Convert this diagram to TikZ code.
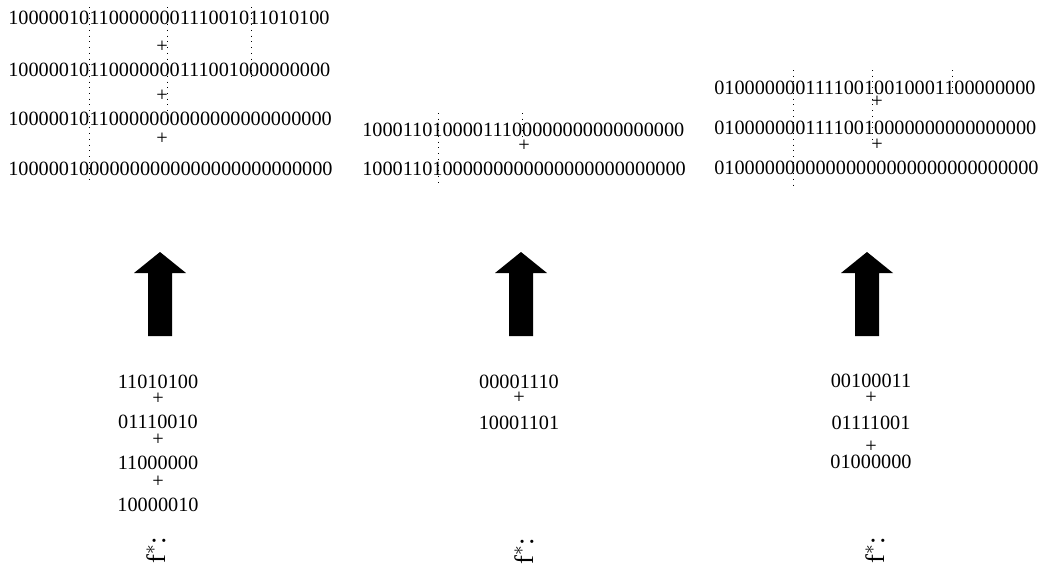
\documentclass[tikz,border=0pt]{standalone}
\usepackage{fontspec}
\setmainfont{Liberation Serif}
\begin{document}
\begin{tikzpicture}[x=0.75pt,y=-0.75pt,
  bits/.style={inner sep=0pt,font=\fontsize{15.2pt}{18pt}\selectfont},
  row/.style={bits,anchor=west},
  lbl/.style={inner sep=0pt,rotate=90,font=\fontsize{20pt}{24pt}\selectfont},
  guide/.style={line width=0.75pt,dash pattern=on 0.7pt off 3.6pt},
  uparrow/.pic={\fill[black] (0,-42) -- (26,-21) -- (12,-21) -- (12,42) -- (-12,42) -- (-12,-21) -- (-26,-21) -- cycle;}]
\useasboundingbox (0,0) rectangle (1042,572);

% ---------- left group (top) ----------
\node[row] (L1) at (8,18) {10000010110000000111001011010100};
\node[bits] (Lp1) at (162,47) {+};
\node[row] (L2) at (8,70) {10000010110000000111001000000000};
\node[bits] (Lp2) at (162,96) {+};
\node[row] (L3) at (8,119) {10000010110000000000000000000000};
\node[bits] (Lp3) at (162,139) {+};
\node[row] (L4) at (8,169) {10000010000000000000000000000000};
\coordinate (La1) at (89,7);  \coordinate (Lb1) at (89,180);
\coordinate (La2) at (167,7); \coordinate (Lb2) at (167,125);
\coordinate (La3) at (251,7); \coordinate (Lb3) at (251,77);
\draw[guide] (La1) -- (Lb1);
\draw[guide] (La2) -- (Lb2);
\draw[guide] (La3) -- (Lb3);

% ---------- middle group (top) ----------
\node[row] (M1) at (362,130) {10001101000011100000000000000000};
\node[bits] (Mp1) at (524,146) {+};
\node[row] (M2) at (362,169) {10001101000000000000000000000000};
\coordinate (Ma1) at (438,113); \coordinate (Mb1) at (438,183);
\coordinate (Ma2) at (522,113); \coordinate (Mb2) at (522,137);
\draw[guide] (Ma1) -- (Mb1);
\draw[guide] (Ma2) -- (Mb2);

% ---------- right group (top) ----------
\node[row] (R1) at (714,88) {01000000011110010010001100000000};
\node[bits] (Rp1) at (877,102) {+};
\node[row] (R2) at (714,128) {01000000011110010000000000000000};
\node[bits] (Rp2) at (877,145) {+};
\node[row] (R3) at (714,168) {01000000000000000000000000000000};
\coordinate (Ra1) at (793,70); \coordinate (Rb1) at (793,188);
\coordinate (Ra2) at (872,70); \coordinate (Rb2) at (872,143);
\coordinate (Ra3) at (952,70); \coordinate (Rb3) at (952,98);
\draw[guide] (Ra1) -- (Rb1);
\draw[guide] (Ra2) -- (Rb2);
\draw[guide] (Ra3) -- (Rb3);

% ---------- block arrows ----------
\pic at (160,294) {uparrow};
\pic at (521,294) {uparrow};
\pic at (867,294) {uparrow};

% ---------- bottom stacks ----------
\node[bits] (la) at (158,382) {11010100};
\node[bits] (lpa) at (158,399) {+};
\node[bits] (lb) at (158,422) {01110010};
\node[bits] (lpb) at (158,440) {+};
\node[bits] (lc) at (158,463) {11000000};
\node[bits] (lpc) at (158,482) {+};
\node[bits] (ld) at (158,505) {10000010};
\node[lbl] (lf) at (156,550) {f$^{*}$:};

\node[bits] (ma) at (519,382) {00001110};
\node[bits] (mpa) at (519,398) {+};
\node[bits] (mb) at (519,423) {10001101};
\node[lbl] (mf) at (524,551) {f$^{*}$:};

\node[bits] (ra) at (871,381) {00100011};
\node[bits] (rpa) at (871,398) {+};
\node[bits] (rb) at (871,423) {01111001};
\node[bits] (rpb) at (871,447) {+};
\node[bits] (rc) at (871,462) {01000000};
\node[lbl] (rf) at (875,550) {f$^{*}$:};
\end{tikzpicture}
\end{document}
